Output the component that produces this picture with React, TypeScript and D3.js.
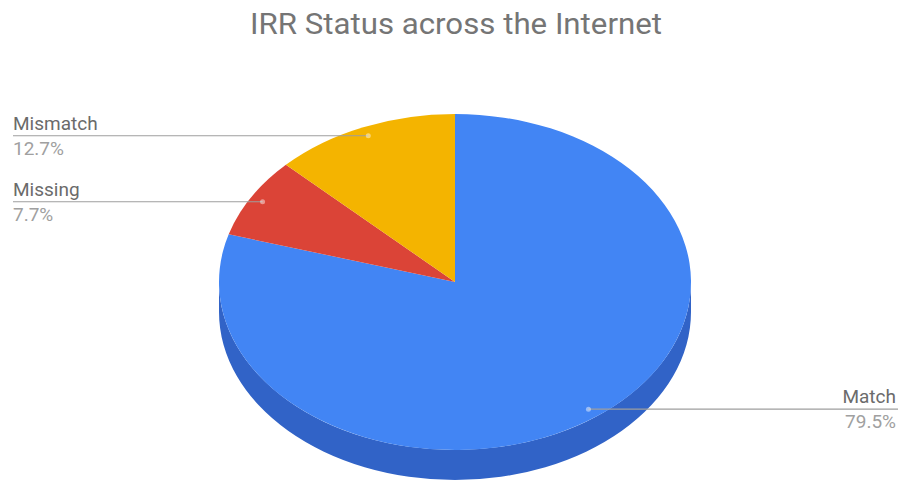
import React from "react";
import * as d3 from "d3";

const categories = ["Match", "Missing", "Mismatch"];
const values = [79.5, 7.7, 12.7];
const labels = ["79.5%", "7.7%", "12.7%"];
const topColors = ["#4285f4", "#db4437", "#f4b400"];
const sideColors = ["#3163c7", "#a8322a", "#b98900"];

const W = 898;
const H = 482;
const cx = 455;
const cy = 282;
const rx = 236;
const ry = 168;
const depth = 30;

function pt(a: number, dy = 0, f = 1): [number, number] {
  return [cx + rx * f * Math.sin(a), cy - ry * f * Math.cos(a) + dy];
}

export default function App() {
  const pie = d3.pie<number>().sort(null).startAngle(0).endAngle(2 * Math.PI);
  const arcs = pie(values);

  const topPath = (a0: number, a1: number) => {
    const p0 = pt(a0);
    const p1 = pt(a1);
    const large = a1 - a0 > Math.PI ? 1 : 0;
    return `M${cx},${cy}L${p0[0]},${p0[1]}A${rx},${ry} 0 ${large} 1 ${p1[0]},${p1[1]}Z`;
  };

  const sidePath = (a0: number, a1: number) => {
    const s = Math.max(a0, Math.PI / 2);
    const e = Math.min(a1, (3 * Math.PI) / 2);
    if (e <= s) return null;
    const p0 = pt(s);
    const p1 = pt(e);
    const q1 = pt(e, depth);
    const q0 = pt(s, depth);
    return `M${p0[0]},${p0[1]}A${rx},${ry} 0 0 1 ${p1[0]},${p1[1]}L${q1[0]},${q1[1]}A${rx},${ry} 0 0 0 ${q0[0]},${q0[1]}Z`;
  };

  const font = "Roboto, Arial, sans-serif";

  return (
    <svg
      width={W}
      height={H}
      style={{ position: "absolute", left: 0, top: 0, background: "#fff" }}
    >
      <text
        x={456}
        y={34}
        textAnchor="middle"
        fontFamily={font}
        fontSize={29}
        fill="#757575"
        textLength={412}
        lengthAdjust="spacingAndGlyphs"
      >
        IRR Status across the Internet
      </text>
      {arcs.map((d, i) => {
        const p = sidePath(d.startAngle, d.endAngle);
        return p ? <path key={"s" + i} d={p} fill={sideColors[i]} /> : null;
      })}
      {arcs.map((d, i) => (
        <path key={"t" + i} d={topPath(d.startAngle, d.endAngle)} fill={topColors[i]} />
      ))}
      {arcs.map((d, i) => {
        const mid = (d.startAngle + d.endAngle) / 2;
        const a = pt(mid, 0, 0.945);
        const right = Math.sin(mid) > 0;
        const x2 = right ? W : 13;
        const tx = right ? 896 : 13;
        const anchor = right ? "end" : "start";
        return (
          <g key={"l" + i}>
            <line x1={a[0]} y1={a[1]} x2={x2} y2={a[1]} stroke="#9e9e9e" strokeWidth={1.2} />
            <circle cx={a[0]} cy={a[1]} r={2.5} fill="#ffffff" opacity={0.45} />
            <text x={tx} y={a[1] - 6} textAnchor={anchor} fontFamily={font} fontSize={19} fill="#6b6b6b">
              {categories[i]}
            </text>
            <text x={tx} y={a[1] + 19} textAnchor={anchor} fontFamily={font} fontSize={19} fill="#a0a0a0">
              {labels[i]}
            </text>
          </g>
        );
      })}
    </svg>
  );
}
